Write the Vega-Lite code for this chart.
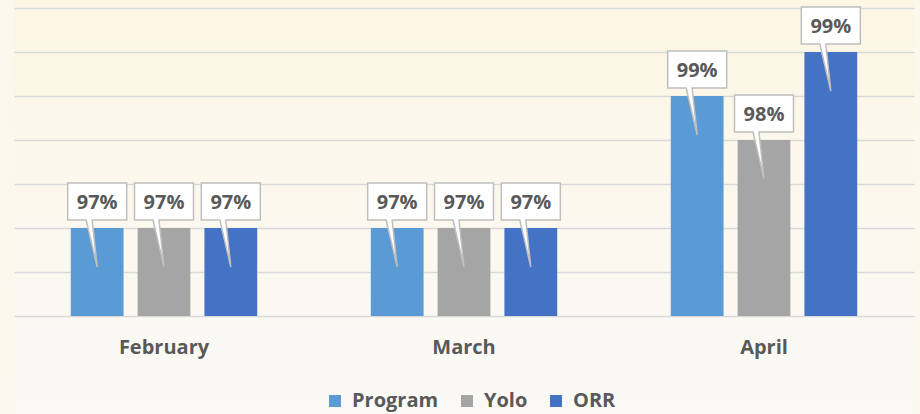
{
  "$schema": "https://vega.github.io/schema/vega-lite/v6.json",
  "width": 900,
  "height": 414,
  "autosize": {"type": "none"},
  "padding": {"left": 14, "right": 6, "top": 0, "bottom": 0},
  "background": "#fcf8ee",
  "config": {
    "view": {
      "stroke": null,
      "fill": {"gradient": "linear", "x1": 0, "y1": 0, "x2": 0, "y2": 1,
        "stops": [{"offset": 0, "color": "#fdf6e3"}, {"offset": 0.5, "color": "#fcf8ee"}, {"offset": 1, "color": "#faf9f6"}]}
    },
    "font": "Open Sans"
  },
  "data": {
    "values": [
      {"month": "February", "series": "Program", "value": 0.97, "label": "97%"},
      {"month": "February", "series": "Yolo", "value": 0.97, "label": "97%"},
      {"month": "February", "series": "ORR", "value": 0.97, "label": "97%"},
      {"month": "March", "series": "Program", "value": 0.97, "label": "97%"},
      {"month": "March", "series": "Yolo", "value": 0.97, "label": "97%"},
      {"month": "March", "series": "ORR", "value": 0.97, "label": "97%"},
      {"month": "April", "series": "Program", "value": 0.985, "label": "99%"},
      {"month": "April", "series": "Yolo", "value": 0.98, "label": "98%"},
      {"month": "April", "series": "ORR", "value": 0.99, "label": "99%"}
    ]
  },
  "encoding": {
    "x": {"field": "month", "type": "nominal", "sort": ["February", "March", "April"],
      "scale": {"paddingInner": 0, "paddingOuter": 0}, "axis": null},
    "xOffset": {"field": "series", "type": "nominal", "sort": ["Program", "Yolo", "ORR"],
      "scale": {"paddingInner": 0.21, "paddingOuter": 0.85}},
    "y": {"field": "value", "type": "quantitative",
      "scale": {"domain": [0.948864, 0.995909], "nice": false, "zero": false},
      "axis": {"values": [0.96, 0.965, 0.97, 0.975, 0.98, 0.985, 0.99, 0.995],
        "grid": true, "gridColor": "#d9d9d9", "gridWidth": 1.5,
        "labels": false, "ticks": false, "domain": false, "title": null}}
  },
  "layer": [
    {
      "mark": {"type": "bar"},
      "encoding": {
        "y2": {"datum": 0.96},
        "color": {"field": "series", "type": "nominal",
          "scale": {"domain": ["Program", "Yolo", "ORR"], "range": ["#5b9bd5", "#a5a5a5", "#4472c4"]},
          "legend": {"orient": "none", "legendX": 311, "legendY": 391, "direction": "horizontal",
            "title": null, "symbolType": "square", "symbolSize": 144, "symbolStrokeWidth": 0,
            "labelFont": "Open Sans", "labelFontSize": 20, "labelFontWeight": "bold", "labelColor": "#595959",
            "labelOffset": 7, "columnPadding": 18}}
      }
    },
    {
      "mark": {"type": "point", "shape": "M-0.59,-0.9L0.59,-0.9L0.59,-0.16L-0.1,-0.16L0,0.78L-0.22,-0.16L-0.59,-0.16Z",
        "size": 10000, "filled": true, "fill": "#ffffff", "stroke": "#bfbfbf", "strokeWidth": 1.5,
        "fillOpacity": 1, "strokeOpacity": 1, "opacity": 1, "strokeJoin": "miter"}
    },
    {
      "mark": {"type": "text", "dy": -25, "fontSize": 20, "fontWeight": "bold", "color": "#595959", "font": "Open Sans"},
      "encoding": {"text": {"field": "label"}}
    },
    {
      "transform": [{"filter": "datum.series === 'Yolo'"}],
      "mark": {"type": "text", "fontSize": 20, "fontWeight": "bold", "color": "#595959", "font": "Open Sans"},
      "encoding": {"y": {"datum": 0.956364}, "text": {"field": "month"}}
    }
  ]
}
